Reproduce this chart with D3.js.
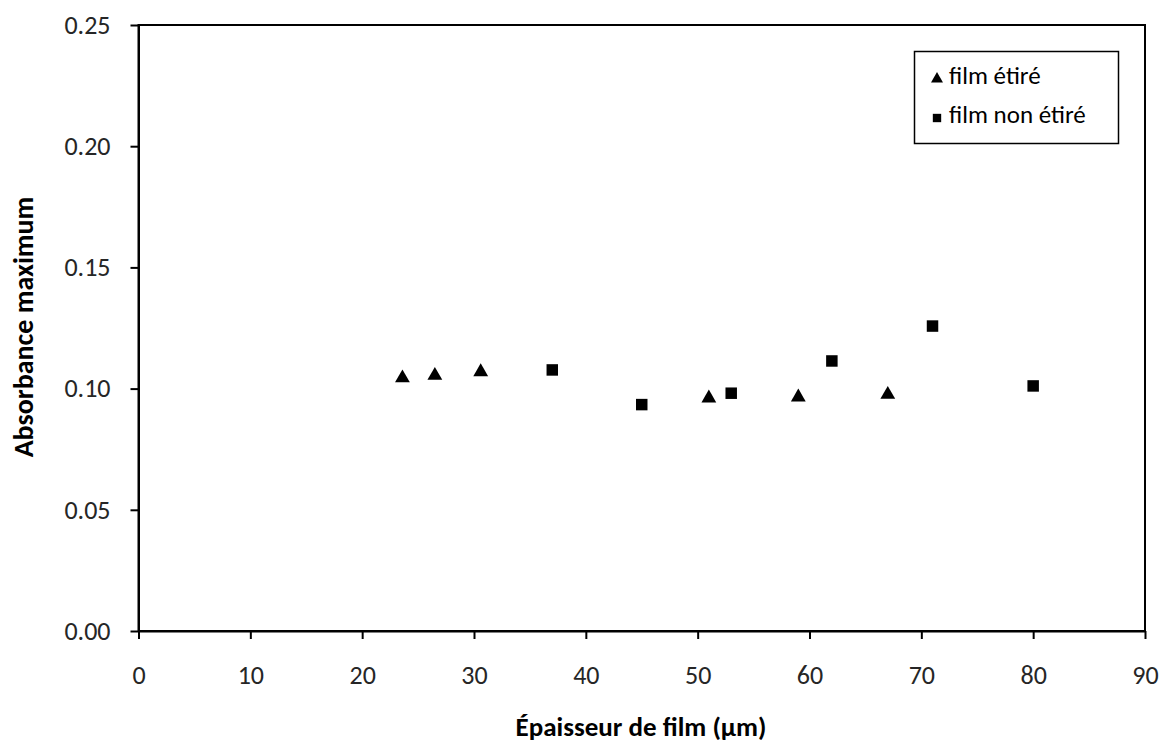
<!DOCTYPE html>
<html>
<head>
<meta charset="utf-8">
<script src="https://cdn.jsdelivr.net/npm/d3@7"></script>
<style>
  html, body { margin: 0; padding: 0; background: #fff; }
  svg { display: block; font-family: Carlito, Lato, sans-serif; }
</style>
</head>
<body>
<svg id="chart" width="1163" height="745"></svg>
<script>
// Data
const stretchedX = [23.6, 26.5, 30.6, 51.0, 59.0, 67.0];
const stretchedY = [0.105, 0.106, 0.1075, 0.0967, 0.0971, 0.0982];
const unstretchedX = [37.0, 45.0, 53.0, 62.0, 71.0, 80.0];
const unstretchedY = [0.1077, 0.0934, 0.0981, 0.1114, 0.1258, 0.1011];
const xTicks = [0, 10, 20, 30, 40, 50, 60, 70, 80, 90];
const yTicks = [0, 0.05, 0.10, 0.15, 0.20, 0.25];
const seriesNames = ["film étiré", "film non étiré"];
const xTitle = "Épaisseur de film (µm)";
const yTitle = "Absorbance maximum";

const svg = d3.select("#chart");
const L = 138.5, R = 1145, T = 25, B = 631;
const x = d3.scaleLinear().domain([0, 90]).range([L, R]);
const y = d3.scaleLinear().domain([0, 0.25]).range([B, T]);

// plot frame
svg.append("rect").attr("x", L).attr("y", T).attr("width", R - L).attr("height", B - T)
  .attr("fill", "none").attr("stroke", "#000").attr("stroke-width", 2);

const tickColor = "#262626";
const xAxis = svg.append("g").attr("transform", `translate(0,${B})`)
  .call(d3.axisBottom(x).tickValues(xTicks).tickSize(8).tickSizeOuter(0).tickPadding(27).tickFormat(d3.format("d")));
const yAxis = svg.append("g").attr("transform", `translate(${L},0)`)
  .call(d3.axisLeft(y).tickValues(yTicks).tickSize(8).tickSizeOuter(0).tickPadding(20).tickFormat(d3.format(".2f")));
[xAxis, yAxis].forEach(g => {
  g.select(".domain").attr("stroke", "#000").attr("stroke-width", 2);
  g.selectAll(".tick line").attr("stroke", "#000").attr("stroke-width", 2);
  g.selectAll(".tick text").attr("font-size", 26).attr("fill", tickColor).attr("font-family", "Carlito, Lato, sans-serif");
});

// markers
const tri = d3.symbol().type(d3.symbolTriangle).size(95);
const sq = d3.symbol().type(d3.symbolSquare).size(132);
svg.append("g").selectAll("path").data(stretchedX.map((v, i) => [v, stretchedY[i]]))
  .join("path").attr("d", tri).attr("fill", "#000")
  .attr("transform", d => `translate(${x(d[0])},${y(d[1]) + 1.5})`);
svg.append("g").selectAll("path").data(unstretchedX.map((v, i) => [v, unstretchedY[i]]))
  .join("path").attr("d", sq).attr("fill", "#000")
  .attr("transform", d => `translate(${x(d[0])},${y(d[1])})`);

// legend
const lg = svg.append("g");
lg.append("rect").attr("x", 914.5).attr("y", 51.5).attr("width", 204).attr("height", 92)
  .attr("fill", "#fff").attr("stroke", "#000").attr("stroke-width", 1.5);
const lt = d3.symbol().type(d3.symbolTriangle).size(62);
const ls = d3.symbol().type(d3.symbolSquare).size(70);
lg.append("path").attr("d", lt).attr("fill", "#000").attr("transform", "translate(937,79)");
lg.append("path").attr("d", ls).attr("fill", "#000").attr("transform", "translate(937,118)");
lg.append("text").attr("x", 949).attr("y", 84).attr("font-size", 25).attr("fill", "#000").text(seriesNames[0]);
lg.append("text").attr("x", 949).attr("y", 123).attr("font-size", 25).attr("fill", "#000").text(seriesNames[1]);

// titles
svg.append("text").attr("x", 641).attr("y", 736).attr("text-anchor", "middle")
  .attr("font-size", 27).attr("font-weight", "bold").attr("fill", "#000").text(xTitle);
svg.append("text").attr("transform", `translate(33,327) rotate(-90)`).attr("text-anchor", "middle")
  .attr("font-size", 28).attr("font-weight", "bold").attr("fill", "#000").text(yTitle);
</script>
</body>
</html>
